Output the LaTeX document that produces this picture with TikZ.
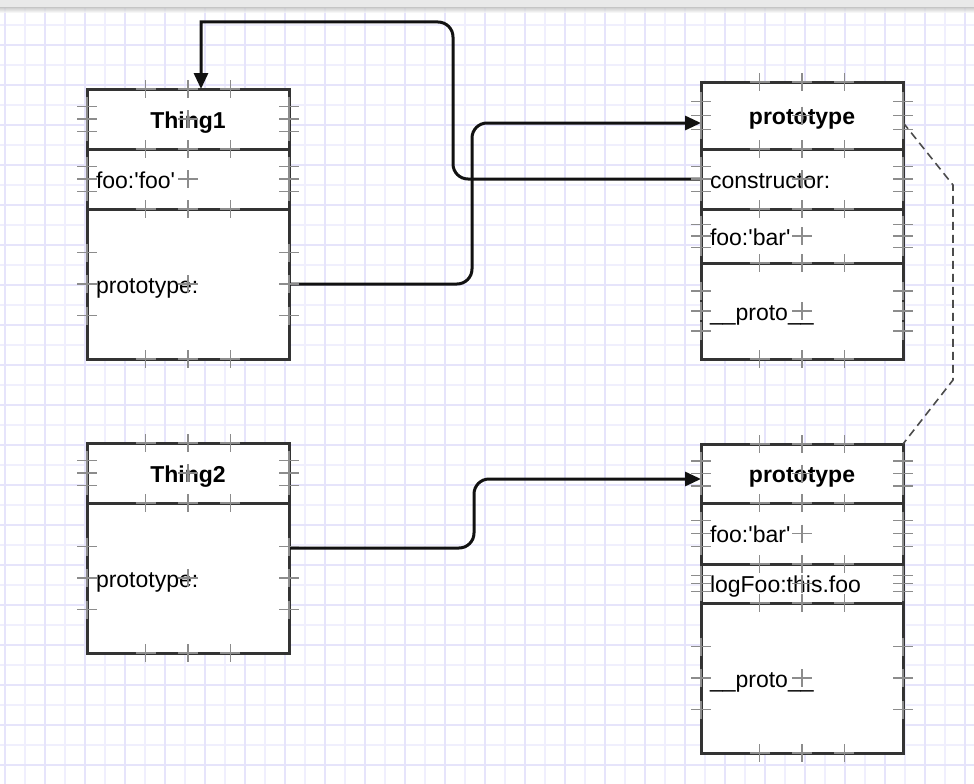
\documentclass[tikz,border=0pt]{standalone}
\usepackage{fontspec}
\setmainfont{Liberation Sans}[Ligatures=TeXOff]
\usetikzlibrary{arrows.meta,calc}
\definecolor{gridmaj}{HTML}{E6E4FB}
\definecolor{gridmin}{HTML}{F0EFFD}
\definecolor{boxline}{HTML}{333333}
\definecolor{conline}{HTML}{111111}
\definecolor{markc}{HTML}{8C8C8C}
\definecolor{barc}{HTML}{E9E9E9}
\tikzset{
  cell/.style={draw=boxline, line width=3pt, fill=white, anchor=north west,
    outer sep=0pt, inner xsep=9pt, inner ysep=0pt, text width=184pt,
    text height=18pt, text depth=0pt,
    align=left, font=\fontsize{23}{27}\selectfont},
  headcell/.style={cell, align=center, font=\fontsize{23}{27}\selectfont\bfseries},
  conn/.style={draw=conline, line width=3pt, rounded corners=15pt},
  tip/.style={-{Triangle[length=16pt,width=14pt]}},
  linkd/.style={draw=black!70, line width=1.6pt, dash pattern=on 8pt off 5pt},
  cmark/.pic={\draw[markc, line width=1.6pt] (-10,0) -- (10,0) (0,-9) -- (0,9);},
}
\newcommand\cpmarks[1]{%
  \foreach \f in {0.29,0.5,0.71}{%
    \pic at ($(#1.north west)!\f!(#1.north east)$) {cmark};
    \pic at ($(#1.south west)!\f!(#1.south east)$) {cmark};
    \pic at ($(#1.north west)!\f!(#1.south west)$) {cmark};
    \pic at ($(#1.north east)!\f!(#1.south east)$) {cmark};
  }%
  \pic at (#1.center) {cmark};%
}
\begin{document}
\begin{tikzpicture}[x=1pt,y=-1pt]
\useasboundingbox (0,0) rectangle (974,784);
\fill[white] (0,0) rectangle (974,784);
% grid
\foreach \v in {25,65,...,985}{
  \draw[gridmin, line width=1.4pt] (\v,0) -- (\v,784);
  \draw[gridmin, line width=1.4pt] (0,\v) -- (974,\v);
}
\foreach \v in {5,45,...,965}{
  \draw[gridmaj, line width=1.4pt] (\v,0) -- (\v,784);
  \draw[gridmaj, line width=1.4pt] (0,\v) -- (974,\v);
}
% top bar
\fill[barc] (0,0) rectangle (974,8);
\shade[top color=black!22, bottom color=white, opacity=0.8] (0,8) rectangle (974,13);

% Thing1
\node[headcell, minimum height=60pt] (t1h) at (87,89) {Thing1};
\node[cell, minimum height=60pt] (t1f) at (87,149) {foo:'foo'};
\node[cell, minimum height=150pt] (t1p) at (87,209) {prototype:};
% Thing2
\node[headcell, minimum height=60pt] (t2h) at (87,443) {Thing2};
\node[cell, minimum height=150pt] (t2p) at (87,503) {prototype:};
% prototype 1
\node[headcell, minimum height=67pt] (p1h) at (701,82) {prototype};
\node[cell, minimum height=60pt] (p1c) at (701,149) {constructor:};
\node[cell, minimum height=54pt] (p1f) at (701,209) {foo:'bar'};
\node[cell, minimum height=96pt] (p1p) at (701,263) {\_\_proto\_\_};
% prototype 2
\node[headcell, minimum height=59pt] (p2h) at (701,444) {prototype};
\node[cell, minimum height=61pt] (p2f) at (701,503) {foo:'bar'};
\node[cell, minimum height=39pt] (p2l) at (701,564) {logFoo:this.foo};
\node[cell, minimum height=150pt] (p2p) at (701,603) {\_\_proto\_\_};

% connectors
\draw[conn, tip] (p1c.west) -| (453,22) [sharp corners] -| ($(t1h.north)+(13,0)$);
\draw[conn, tip] (t1p.east) -| (472,123) -- ($(p1h.west)+(0,7.5)$);
\draw[conn, tip] ($(t2p.east)+(0,-30)$) -| (474,479) -- ($(p2h.west)+(0,5.5)$);
\draw[linkd] ($(p1h.east)+(0,7)$) -- (953,185) -- (953,380) -- (p2h.north east);

% connection point marks
\foreach \n in {t1h,t1f,t1p,t2h,t2p,p1h,p1c,p1f,p1p,p2h,p2f,p2l,p2p}{\cpmarks{\n}}
\end{tikzpicture}
\end{document}
